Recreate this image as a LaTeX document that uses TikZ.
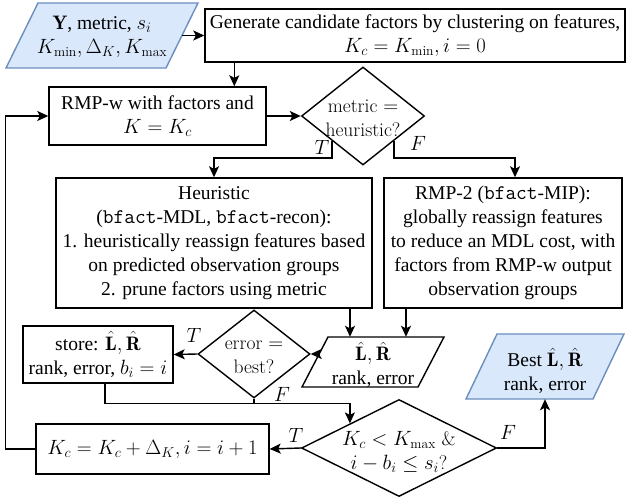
\documentclass[tikz,border=0pt]{standalone}
\usepackage{fontspec}
\newfontfamily\tnr{Liberation Serif}
\usetikzlibrary{shapes.geometric,arrows.meta}
\definecolor{bfill}{HTML}{DAE8FC}
\definecolor{bdraw}{HTML}{6C8EBF}
\newcommand{\fs}{\fontsize{19.6}{24}\selectfont}
\newcommand{\tbfact}{{\ttfamily\fontsize{20.9}{24}\selectfont bfact}}
\newcommand{\LR}{\hat{\mathbf{L}},\hat{\mathbf{R}}}
\tikzset{
  lw/.style={line width=1.4bp},
  box/.style={draw, lw, inner sep=0pt, align=center, font=\tnr\fs},
  dia/.style={draw, lw, diamond, inner sep=0pt},
  dtext/.style={inner sep=0pt, align=center, font=\rmfamily\fs},
  ptext/.style={inner sep=0pt, align=center, font=\tnr\fs},
  para/.style={draw, lw},
  inpara/.style={draw=bdraw, fill=bfill, lw},
  arr/.style={lw, -{Stealth[length=11bp,width=10bp,inset=2.5bp]}},
  lab/.style={inner sep=0pt, font=\fs}
}
\begin{document}
\begin{tikzpicture}[x=1bp,y=-1bp]
\useasboundingbox (0,0) rectangle (626,502);
% input parallelogram
\path[inpara] (6,68) -- (166,68) -- (198,3) -- (38,3) -- cycle;
\node[ptext, minimum width=160bp, minimum height=65bp] (in) at (102,36.5) {$\mathbf{Y}$, metric, $s_i$\\ $K_{\min}, \Delta_K, K_{\max}$};
% generate
\node[box, minimum width=420bp, minimum height=53bp] (gen) at (415,35.5) {Generate candidate factors by clustering on features,\\ $K_c = K_{\min}, i = 0$};
% RMP-w
\node[box, minimum width=217bp, minimum height=58bp] (rmpw) at (157.5,116) {RMP-w with factors and\\ $K = K_c$};
% diamond 1
\node[dia, minimum width=123bp, minimum height=98bp] (d1) at (363,116) {};
\node[dtext] (d1t) at (363,118) {metric $=$\\heuristic?};
% heuristic
\node[box, minimum width=316bp, minimum height=130bp] (heur) at (214,243) {Heuristic\\ (\tbfact-MDL, \tbfact-recon):\\ 1. heuristically reassign features based\\ on predicted observation groups\\ 2. prune factors using metric};
% RMP-2
\node[box, minimum width=238bp, minimum height=130bp] (rmp2) at (503,243) {RMP-2 (\tbfact-MIP):\\ globally reassign features\\ to reduce an MDL cost, with\\ factors from RMP-w output\\ observation groups};
% output parallelogram
\path[para] (302,387) -- (418,387) -- (444,337) -- (328,337) -- cycle;
\node[ptext, minimum width=116bp, minimum height=56bp] (out) at (373,365) {$\LR$\\ rank, error};
% diamond 2
\node[dia, minimum width=112bp, minimum height=88bp] (d2) at (254,354) {};
\node[dtext] (d2t) at (254,357) {error $=$\\best?};
% store
\node[box, minimum width=150bp, minimum height=57bp] (store) at (98,354.5) {store: $\LR$\\ rank, error, $b_i = i$};
% diamond 3
\node[dia, minimum width=195bp, minimum height=97bp] (d3) at (399,448) {};
\node[dtext] (d3t) at (399,452) {$K_c < K_{\max}$ \&\\ $i - b_i \leq s_i$?};
% Kc update
\node[box, minimum width=233bp, minimum height=50bp] (kc) at (152.5,449) {$K_c = K_c + \Delta_K, i = i + 1$};
% best parallelogram
\path[inpara] (466,399) -- (593,399) -- (624,334) -- (497,334) -- cycle;
\node[ptext, minimum width=127bp, minimum height=56bp] (best) at (545,371) {Best $\LR$\\ rank, error};
% connectors
\draw[arr] ([yshift=1bp]in.east) -- ([yshift=1bp]in.east -| gen.west);
\draw[arr] ([xshift=30bp]gen.south west) -- ([xshift=30bp]gen.south west |- rmpw.north);
\draw[arr] (rmpw.east) -- (d1.west);
\draw[arr] (d1.south west) -- ++(0,17) -| (heur.north);
\draw[arr] (d1.south east) -- ++(0,17) -| ([xshift=12bp]rmp2.north);
\draw[arr] ([xshift=-23bp]out.north |- heur.south) -- ([xshift=-23bp]out.north);
\draw[arr] ([xshift=33bp]out.north |- rmp2.south) -- ([xshift=33bp]out.north);
\draw[arr] ([xshift=5bp]out.west |- d2.east) -- (d2.east);
\draw[arr] (d2.west) -- (store.east);
\coordinate (j) at ([yshift=-5bp]d2.south);
\draw[arr] (d2.south) -- (j) -| (d3.north west);
\draw[lw] ([xshift=7bp]store.south) |- (j);
\draw[arr] (d3.west) -- (kc.east);
\draw[arr] (kc.west) -- ++(-30,0) |- (rmpw.west);
\draw[arr] (d3.east) -| (best.south);
% labels
\node[lab] (l1) at (322,147) {$T$};
\node[lab] (l2) at (418,143) {$F$};
\node[lab] (l3) at (194,335) {$T$};
\node[lab] (l4) at (282,394) {$F$};
\node[lab] (l5) at (296,435) {$T$};
\node[lab] (l6) at (508,432) {$F$};
\end{tikzpicture}
\end{document}
